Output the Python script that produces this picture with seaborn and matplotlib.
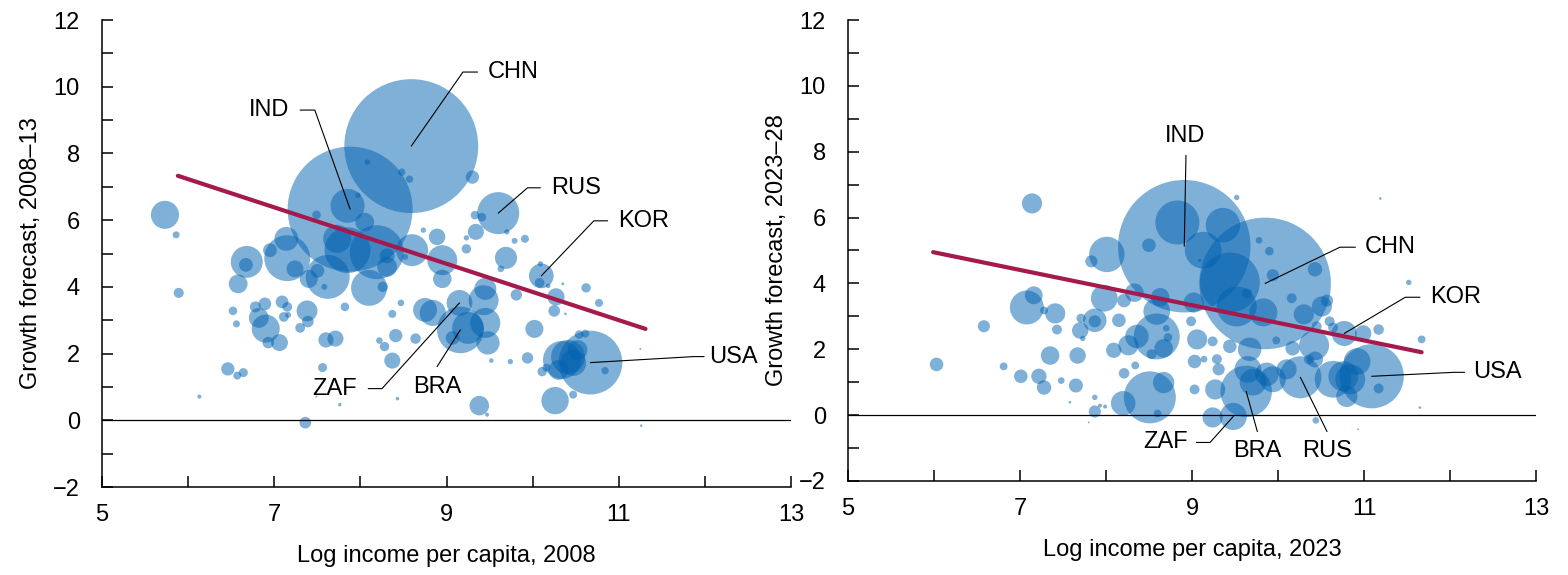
import matplotlib
matplotlib.use("Agg")
import matplotlib.pyplot as plt
from matplotlib.ticker import MultipleLocator
import numpy as np
import pandas as pd
import seaborn as sns

# ---------------- 2008 panel ----------------
# first seven entries are the labelled economies
codes_08 = ["CHN", "IND", "RUS", "KOR", "USA", "BRA", "ZAF"]
income_08 = [8.59, 7.88, 9.60, 10.10, 10.67, 9.16, 9.15,
             5.73, 5.86, 5.89, 6.13, 6.46, 6.57, 6.64, 6.52, 6.56, 6.58,
             6.68, 6.67, 6.78, 6.89, 6.82, 6.90, 6.93, 7.06, 6.95, 7.14,
             7.15, 7.24, 7.09, 7.15, 7.11, 7.16, 7.38, 7.39, 7.30, 7.60,
             7.71, 7.56, 7.36, 7.76, 7.49, 7.40, 7.62, 7.50, 7.58, 7.73,
             7.85, 8.19, 8.10, 8.05, 7.97, 7.85, 7.49, 8.08, 8.48, 8.57,
             8.60, 8.31, 8.31, 8.26, 8.52, 8.47, 8.37, 8.41, 8.37, 8.22,
             8.28, 8.64, 8.43, 7.82, 8.75, 8.73, 9.30, 9.33, 9.41, 9.34,
             9.23, 9.23, 9.70, 9.79, 9.91, 9.69, 9.63, 8.89, 8.95, 8.95,
             10.08, 10.09, 10.18, 10.35, 10.62, 10.27, 10.25, 10.77, 9.81, 9.45,
             9.43, 9.45, 9.25, 9.48, 9.07, 8.84, 10.02, 9.94, 9.74, 9.52,
             9.38, 9.47, 10.26, 10.47, 10.41, 10.34, 10.47, 10.52, 10.30, 10.11,
             10.16, 10.84, 10.54, 10.61, 11.25, 11.26, 10.38]
growth_08 = [8.22, 6.33, 6.21, 4.33, 1.73, 2.71, 3.52,
             6.16, 5.56, 3.82, 0.71, 1.54, 1.34, 1.43, 3.28, 2.89, 4.09,
             4.75, 4.66, 3.40, 3.49, 3.07, 2.75, 2.33, 2.33, 5.10, 5.44,
             4.86, 4.54, 3.55, 3.40, 3.10, 3.16, 3.28, 2.96, 2.77, 2.41,
             2.45, 1.58, -0.07, 0.47, 0.71, 4.24, 4.30, 4.48, 4.00, 5.44,
             5.10, 5.04, 3.97, 5.94, 6.75, 6.43, 6.16, 7.74, 7.44, 7.23,
             5.10, 4.93, 4.60, 4.00, 4.90, 3.52, 3.19, 2.54, 1.79, 2.39,
             2.21, 2.45, 0.65, 3.40, 3.31, 5.70, 7.29, 6.15, 6.09, 5.65,
             5.47, 5.14, 5.65, 5.38, 5.44, 4.87, 4.54, 5.50, 4.80, 4.24,
             4.12, 4.69, 4.03, 4.09, 3.97, 3.70, 3.28, 3.52, 3.76, 3.94,
             3.60, 2.92, 2.77, 2.32, 2.47, 3.22, 2.74, 1.87, 1.76, 1.79,
             0.44, 0.17, 0.59, 0.77, 1.90, 1.81, 1.72, 2.11, 1.51, 1.46,
             1.58, 1.49, 2.57, 2.60, 2.14, -0.16, 3.19]
pop_08 = [1320, 1150, 130, 45, 300, 160, 49,
          58, 3.6, 7.4, 1.2, 13, 4.7, 6, 5.4, 3.6, 26,
          75, 14, 9, 12, 29, 58, 10, 21, 14, 42,
          155, 21, 12, 7, 7, 2.6, 32, 10, 7, 17,
          19, 6, 10, 0.9, 0.3, 24, 142, 14, 2.6, 58,
          155, 214, 95, 26, 2.1, 85, 5.4, 2.1, 4, 4,
          75, 16, 29, 8, 2.6, 3.2, 4.7, 13, 19, 3.2,
          6.5, 8, 0.9, 5.4, 42, 2.1, 13, 5.4, 5.4, 19,
          2.1, 6.5, 2.1, 2.6, 4.7, 36, 3.2, 20, 66, 25,
          7, 2.1, 1.5, 0.6, 6.5, 22, 10, 4.7, 9.5, 36,
          66, 66, 75, 40, 14, 50, 24, 9.5, 2.1, 1.5,
          28, 1.2, 55, 4.7, 85, 106, 50, 29, 29, 6.5,
          4.7, 4, 5.4, 4.7, 0.3, 0.5, 0.5]
fit_x_08 = [5.88, 11.31]
fit_y_08 = [7.33, 2.74]

# ---------------- 2023 panel ----------------
codes_23 = ["CHN", "IND", "KOR", "USA", "BRA", "RUS", "ZAF"]
income_23 = [9.85, 8.91, 10.77, 11.09, 9.63, 10.26, 9.48,
             7.14, 6.03, 6.58, 6.81, 7.08, 7.16, 7.28, 7.41, 7.43, 7.01,
             7.22, 7.28, 7.35, 7.48, 7.67, 7.65, 7.70, 7.71, 7.73, 7.87,
             7.87, 7.83, 8.01, 7.98, 8.15, 8.21, 8.33, 8.09, 8.26, 8.36,
             8.34, 8.21, 8.20, 8.51, 8.67, 8.60, 8.63, 8.59, 8.59, 8.67,
             8.70, 8.72, 8.53, 8.50, 8.83, 9.09, 7.87, 7.93, 7.99, 7.87,
             7.58, 7.80, 9.36, 9.13, 9.52, 9.44, 9.52, 9.83, 9.78, 9.90,
             10.43, 9.94, 10.16, 10.30, 10.51, 10.57, 10.45, 10.60, 9.64, 9.02,
             8.99, 9.06, 9.24, 9.44, 9.67, 9.98, 10.17, 10.42, 10.36, 10.64,
             10.99, 11.17, 11.67, 11.52, 11.19, 9.03, 9.14, 9.29, 9.31, 9.27,
             9.65, 9.71, 9.87, 9.94, 10.10, 10.43, 10.64, 10.76, 10.84, 10.92,
             10.80, 11.17, 11.65, 10.44, 10.93, 9.24, 9.03]
growth_23 = [4.00, 5.13, 2.48, 1.18, 0.72, 1.15, -0.04,
             6.43, 1.54, 2.70, 1.48, 3.27, 3.64, 3.18, 3.09, 2.60, 1.18,
             1.18, 0.84, 1.81, 1.05, 1.81, 0.90, 2.57, 2.94, 2.33, 2.88,
             2.85, 4.67, 4.88, 3.55, 2.88, 3.48, 3.72, 1.97, 2.12, 2.39,
             1.51, 1.27, 0.36, 0.54, 0.99, 0.05, 3.58, 3.15, 2.39, 2.03,
             2.64, 2.36, 1.85, 5.16, 5.85, 4.70, 0.54, 0.29, 0.26, 0.11,
             0.39, -0.22, 5.77, 5.01, 6.61, 4.03, 3.30, 3.12, 5.31, 4.98,
             4.43, 4.25, 3.55, 3.06, 3.30, 3.48, 2.70, 2.85, 3.70, 3.42,
             2.85, 2.30, 2.24, 2.09, 2.00, 2.27, 2.03, 2.12, 1.69, 2.66,
             2.48, 2.60, 2.30, 4.03, 6.58, 1.63, 1.70, 1.70, 1.39, 0.78,
             1.39, 1.00, 1.24, 1.09, 1.39, 1.69, 1.09, 1.18, 1.09, 1.63,
             0.57, 0.81, 0.23, -0.16, -0.43, -0.07, 0.78]
pop_23 = [1410, 1430, 51, 335, 216, 144, 60,
          33, 15, 12, 5, 94, 26, 5, 33, 8, 15,
          19, 17, 28, 3.6, 22, 16, 22, 7, 2.4, 45,
          12, 12, 102, 58, 15, 15, 28, 19, 33, 45,
          5, 9, 49, 220, 37, 5, 28, 58, 172, 28,
          3.6, 6, 8, 15, 158, 1, 2.4, 1.3, 1.3, 12,
          0.6, 0.3, 97, 110, 2.4, 293, 130, 64, 3.6, 6,
          17, 12, 8, 33, 33, 12, 8, 8, 8, 33,
          8, 33, 8, 15, 45, 5, 17, 73, 8, 8,
          22, 9, 5, 2.4, 0.6, 15, 3.6, 8, 12, 33,
          58, 58, 45, 55, 33, 21, 110, 73, 73, 58,
          37, 8, 0.6, 3.6, 0.3, 33, 8]
fit_x_23 = [5.99, 11.67]
fit_y_23 = [4.95, 1.91]

# label text position, alignment and leader elbow points (data units)
labels_08 = {
    "CHN": ((9.48, 10.44), "left",   [(9.19, 10.44), (9.36, 10.44)]),
    "IND": ((7.17, 9.30),  "right",  [(7.47, 9.30), (7.30, 9.30)]),
    "RUS": ((10.21, 6.97), "left",   [(9.94, 6.97), (10.09, 6.97)]),
    "KOR": ((10.99, 5.98), "left",   [(10.71, 5.98), (10.87, 5.98)]),
    "USA": ((12.05, 1.91), "left",   [(11.87, 1.91), (11.99, 1.91)]),
    "BRA": ((8.89, 1.01),  "center", [(8.89, 1.61)]),
    "ZAF": ((7.96, 0.95),  "right",  [(8.25, 0.95), (8.09, 0.95)]),
}
labels_23 = {
    "CHN": ((11.01, 5.10), "left",   [(10.72, 5.10), (10.90, 5.10)]),
    "IND": ((8.92, 8.47),  "center", [(8.93, 7.89)]),
    "KOR": ((11.77, 3.58), "left",   [(11.48, 3.58), (11.65, 3.58)]),
    "USA": ((12.27, 1.30), "left",   [(12.05, 1.30), (12.17, 1.30)]),
    "ZAF": ((8.95, -0.83), "right",  [(9.21, -0.83), (9.05, -0.83)]),
    "BRA": ((9.76, -1.10), "center", [(9.76, -0.50)]),
    "RUS": ((10.57, -1.10), "center", [(10.57, -0.50)]),
}

BUBBLE = "#0062B0"
TREND = "#A51A4C"
FS = 17

sns.set_theme(style="ticks")
plt.rcParams["font.family"] = ["Liberation Sans Narrow", "Liberation Sans", "DejaVu Sans"]
plt.rcParams["axes.unicode_minus"] = True
plt.rcParams["text.color"] = "black"
plt.rcParams["axes.labelcolor"] = "black"
plt.rcParams["xtick.color"] = "black"
plt.rcParams["ytick.color"] = "black"
plt.rcParams["xtick.labelcolor"] = "black"
plt.rcParams["ytick.labelcolor"] = "black"

fig = plt.figure(figsize=(15.68, 5.75), dpi=100)
ax1 = fig.add_axes([0.0651, 0.1530, 0.4394, 0.8122])
ax2 = fig.add_axes([0.5408, 0.1635, 0.4388, 0.8017])


def draw_panel(ax, inc, gr, pop, codes, fit_x, fit_y, labels, smax, xlabel, ylabel):
    df = pd.DataFrame({"income": inc, "growth": gr, "pop": pop})
    ax.axhline(0, color="black", lw=0.9, zorder=3)
    sns.scatterplot(data=df, x="income", y="growth", size="pop",
                    sizes=(0, smax), size_norm=(0, max(pop)),
                    color=BUBBLE, alpha=0.5, linewidth=0,
                    legend=False, ax=ax, zorder=2)
    sns.lineplot(x=fit_x, y=fit_y, color=TREND, lw=3.0, ax=ax, zorder=4)

    for i, code in enumerate(codes):
        (tx, ty), ha, elbow = labels[code]
        path = [(inc[i], gr[i])] + elbow
        xs, ys = zip(*path)
        ax.plot(xs, ys, color="black", lw=0.8, zorder=5)
        ax.text(tx, ty, code, ha=ha, va="center", fontsize=FS,
                color="black", zorder=6)

    ax.set_xlim(5, 13)
    ax.set_ylim(-2, 12)
    ax.set_xticks([5, 7, 9, 11, 13])
    ax.set_xticks(range(5, 14), minor=True)
    ax.yaxis.set_major_locator(MultipleLocator(2))
    ax.yaxis.set_minor_locator(MultipleLocator(1))
    ax.tick_params(which="both", direction="in", length=8, width=1.1,
                   color="black", labelcolor="black", labelsize=FS, pad=16)
    ax.tick_params(axis="x", which="major", pad=12)
    for side in ("top", "right"):
        ax.spines[side].set_visible(False)
    for side in ("left", "bottom"):
        ax.spines[side].set_linewidth(1.1)
        ax.spines[side].set_color("black")
    ax.set_xlabel(xlabel, fontsize=FS, labelpad=14, color="black")
    ax.set_ylabel(ylabel, fontsize=FS, labelpad=8, color="black")
    ax.set_facecolor("white")


draw_panel(ax1, income_08, growth_08, pop_08, codes_08, fit_x_08, fit_y_08,
           labels_08, 9290, "Log income per capita, 2008", "Growth forecast, 2008–13")
draw_panel(ax2, income_23, growth_23, pop_23, codes_23, fit_x_23, fit_y_23,
           labels_23, 9100, "Log income per capita, 2023", "Growth forecast, 2023–28")

fig.savefig("out.png", dpi=100, facecolor="white")
